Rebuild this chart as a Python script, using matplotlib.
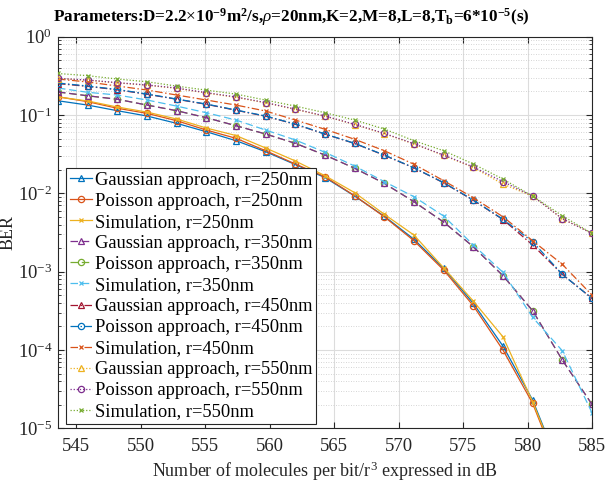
import numpy as np
import matplotlib
matplotlib.use("Agg")
import matplotlib.pyplot as plt
from matplotlib.ticker import LogLocator, NullFormatter

plt.rcParams['font.family'] = ['Liberation Serif', 'DejaVu Serif']
plt.rcParams['mathtext.fontset'] = 'custom'
plt.rcParams['mathtext.rm'] = 'Liberation Serif'
plt.rcParams['mathtext.it'] = 'Liberation Serif:italic'
plt.rcParams['mathtext.bf'] = 'Liberation Serif:bold'

# molecules per bit / r^3 in dB
snr_db = [543.6, 545.9, 548.2, 550.5, 552.8, 555.1, 557.4, 559.7, 562.0, 564.3,
          566.6, 568.9, 571.2, 573.5, 575.8, 578.1, 580.4, 582.7, 585.0]

# r = 250 nm
gauss_250 = [0.152, 0.134, 0.1135, 0.0971, 0.0783, 0.0612, 0.0470, 0.0340, 0.0233, 0.0159,
             0.00924, 0.00510, 0.00259, 0.00110, 3.94e-4, 1.12e-4, 2.29e-5, 2.60e-6, 3.22e-7]
poiss_250 = [0.171, 0.148, 0.122, 0.105, 0.0846, 0.0643, 0.0504, 0.0350, 0.0237, 0.0163,
             0.00931, 0.00502, 0.00248, 0.00105, 3.67e-4, 9.97e-5, 2.08e-5, 2.31e-6, 2.78e-7]
sim_250 = [0.170, 0.151, 0.1265, 0.109, 0.0889, 0.0682, 0.0547, 0.0379, 0.0259, 0.0168,
           0.0102, 0.00540, 0.00293, 0.00112, 4.21e-4, 1.47e-4, 2.18e-5, 2.52e-6, 2.80e-7]

# r = 350 nm
gauss_350 = [0.197, 0.176, 0.159, 0.134, 0.1135, 0.0924, 0.0730, 0.0572, 0.0435, 0.0308,
             0.0209, 0.0134, 0.00781, 0.00430, 0.00208, 8.87e-4, 3.17e-4, 7.43e-5, 2.02e-5]
poiss_350 = [0.197, 0.176, 0.159, 0.134, 0.1135, 0.0924, 0.0730, 0.0572, 0.0435, 0.0308,
             0.0209, 0.0134, 0.00781, 0.00430, 0.00208, 8.87e-4, 3.17e-4, 7.43e-5, 2.02e-5]
sim_350 = [0.221, 0.195, 0.180, 0.1555, 0.130, 0.107, 0.0863, 0.0643, 0.0480, 0.0334,
           0.0223, 0.0141, 0.00905, 0.00513, 0.00219, 9.8e-4, 2.61e-4, 9.77e-5, 1.58e-5]

# r = 450 nm
gauss_450 = [0.252, 0.232, 0.210, 0.184, 0.159, 0.137, 0.115, 0.0965, 0.0762, 0.0570,
             0.0433, 0.0306, 0.0211, 0.0136, 0.00815, 0.00462, 0.00219, 9.24e-4, 4.56e-4]
poiss_450 = [0.256, 0.2346, 0.212, 0.1855, 0.160, 0.138, 0.1159, 0.0971, 0.0767, 0.0572,
             0.0435, 0.0308, 0.0212, 0.0137, 0.00821, 0.00466, 0.00241, 9.24e-4, 4.56e-4]
sim_450 = [0.288, 0.264, 0.2346, 0.2086, 0.180, 0.1555, 0.134, 0.1125, 0.0863, 0.0657,
           0.0490, 0.0350, 0.0235, 0.0145, 0.00879, 0.00502, 0.00248, 0.00124, 5.02e-4]

# r = 550 nm
gauss_550 = [0.292, 0.278, 0.257, 0.240, 0.219, 0.191, 0.168, 0.143, 0.118, 0.0965,
             0.0755, 0.0578, 0.0427, 0.0305, 0.0214, 0.0131, 0.00920, 0.00474, 0.00308]
poiss_550 = [0.294, 0.280, 0.259, 0.242, 0.221, 0.193, 0.170, 0.144, 0.119, 0.0971,
             0.0761, 0.0583, 0.0430, 0.0308, 0.0217, 0.0141, 0.00923, 0.00474, 0.00308]
sim_550 = [0.339, 0.318, 0.288, 0.266, 0.234, 0.208, 0.185, 0.155, 0.130, 0.107,
           0.0863, 0.0662, 0.0470, 0.0350, 0.0237, 0.0152, 0.00923, 0.00517, 0.00308]

labels = ['Gaussian approach, r=250nm', 'Poisson approach, r=250nm', 'Simulation, r=250nm',
          'Gaussian approach, r=350nm', 'Poisson approach, r=350nm', 'Simulation, r=350nm',
          'Gaussian approach, r=450nm', 'Poisson approach, r=450nm', 'Simulation, r=450nm',
          'Gaussian approach, r=550nm', 'Poisson approach, r=550nm', 'Simulation, r=550nm']
series = [gauss_250, poiss_250, sim_250, gauss_350, poiss_350, sim_350,
          gauss_450, poiss_450, sim_450, gauss_550, poiss_550, sim_550]

# matlab default colour order
colors = ['#0072BD', '#D95319', '#EDB120', '#7E2F8E', '#77AC30', '#4DBEEE', '#A2142F']
dash = (0, (6, 3))
dashdot = (0, (6, 2, 1.2, 2))
dot = (0, (1, 1.5))
styles = ['-'] * 3 + [dash] * 3 + [dashdot] * 3 + [dot] * 3
markers = ['^', 'o', 'x'] * 4
# the r=350 poisson curve sits under the gaussian one
zorders = [2, 2.1, 2.2, 2.3, 1.9, 2.5, 2.6, 2.7, 2.8, 2.9, 3.0, 3.1]

fig = plt.figure(figsize=(6.06, 4.88), dpi=100)
ax = fig.add_axes([0.0957, 0.1223, 0.8812, 0.8025])

for i, (ys, lab) in enumerate(zip(series, labels)):
    c = colors[i % 7]
    m = markers[i]
    ax.semilogy(snr_db, ys, linestyle=styles[i], color=c, lw=0.9,
                marker=m, markersize=4.5 if m != 'x' else 3.5,
                markerfacecolor='none', markeredgewidth=0.9, label=lab,
                zorder=zorders[i])

ax.set_xlim(543.6, 585)
ax.set_ylim(1e-5, 1)
ax.set_xticks(range(545, 586, 5))
ax.yaxis.set_major_locator(LogLocator(base=10, numticks=10))
ax.yaxis.set_minor_locator(LogLocator(base=10, subs=np.arange(2, 10), numticks=20))
ax.yaxis.set_minor_formatter(NullFormatter())

ax.grid(True, which='major', color='#DCDCDC', lw=0.8, ls='-')
ax.grid(True, which='minor', axis='y', color='#C8C8C8', lw=0.6, ls=(0, (1, 2)))
ax.set_axisbelow(True)

ax.tick_params(which='both', direction='in', top=True, right=True, colors='0.15')
ax.tick_params(which='major', length=4, labelsize=13.5, labelcolor='#262626')
ax.tick_params(which='minor', length=2)
ax.tick_params(axis='x', which='major', pad=7)
ax.tick_params(axis='y', which='major', pad=4)
for s in ax.spines.values():
    s.set_color('0.15')
    s.set_linewidth(0.8)

ax.set_xlabel('Number of molecules per bit/r$^3$ expressed in dB', fontsize=13, color='#262626', labelpad=3)
ax.set_ylabel('BER', fontsize=13, color='#262626')
ax.yaxis.set_label_coords(-0.078, 0.5)
ax.set_title(r'Parameters:D=2.2$\times$10$^{\mathbf{-9}}$m$^{\mathbf{2}}$/s,$\rho$=20nm,K=2,M=8,L=8,T$_{\mathbf{b}}$=6*10$^{\mathbf{-5}}$(s)',
             fontsize=12.3, fontweight='bold', pad=11, x=0.436)

leg = ax.legend(loc='lower left', bbox_to_anchor=(0.015, 0.011), borderaxespad=0,
                fontsize=13.3, labelspacing=0.22, handlelength=1.2, handletextpad=0.15,
                borderpad=0.2, fancybox=False, framealpha=1, edgecolor='0.15')
leg.get_frame().set_linewidth(0.8)

fig.savefig('out.png', dpi=100)
